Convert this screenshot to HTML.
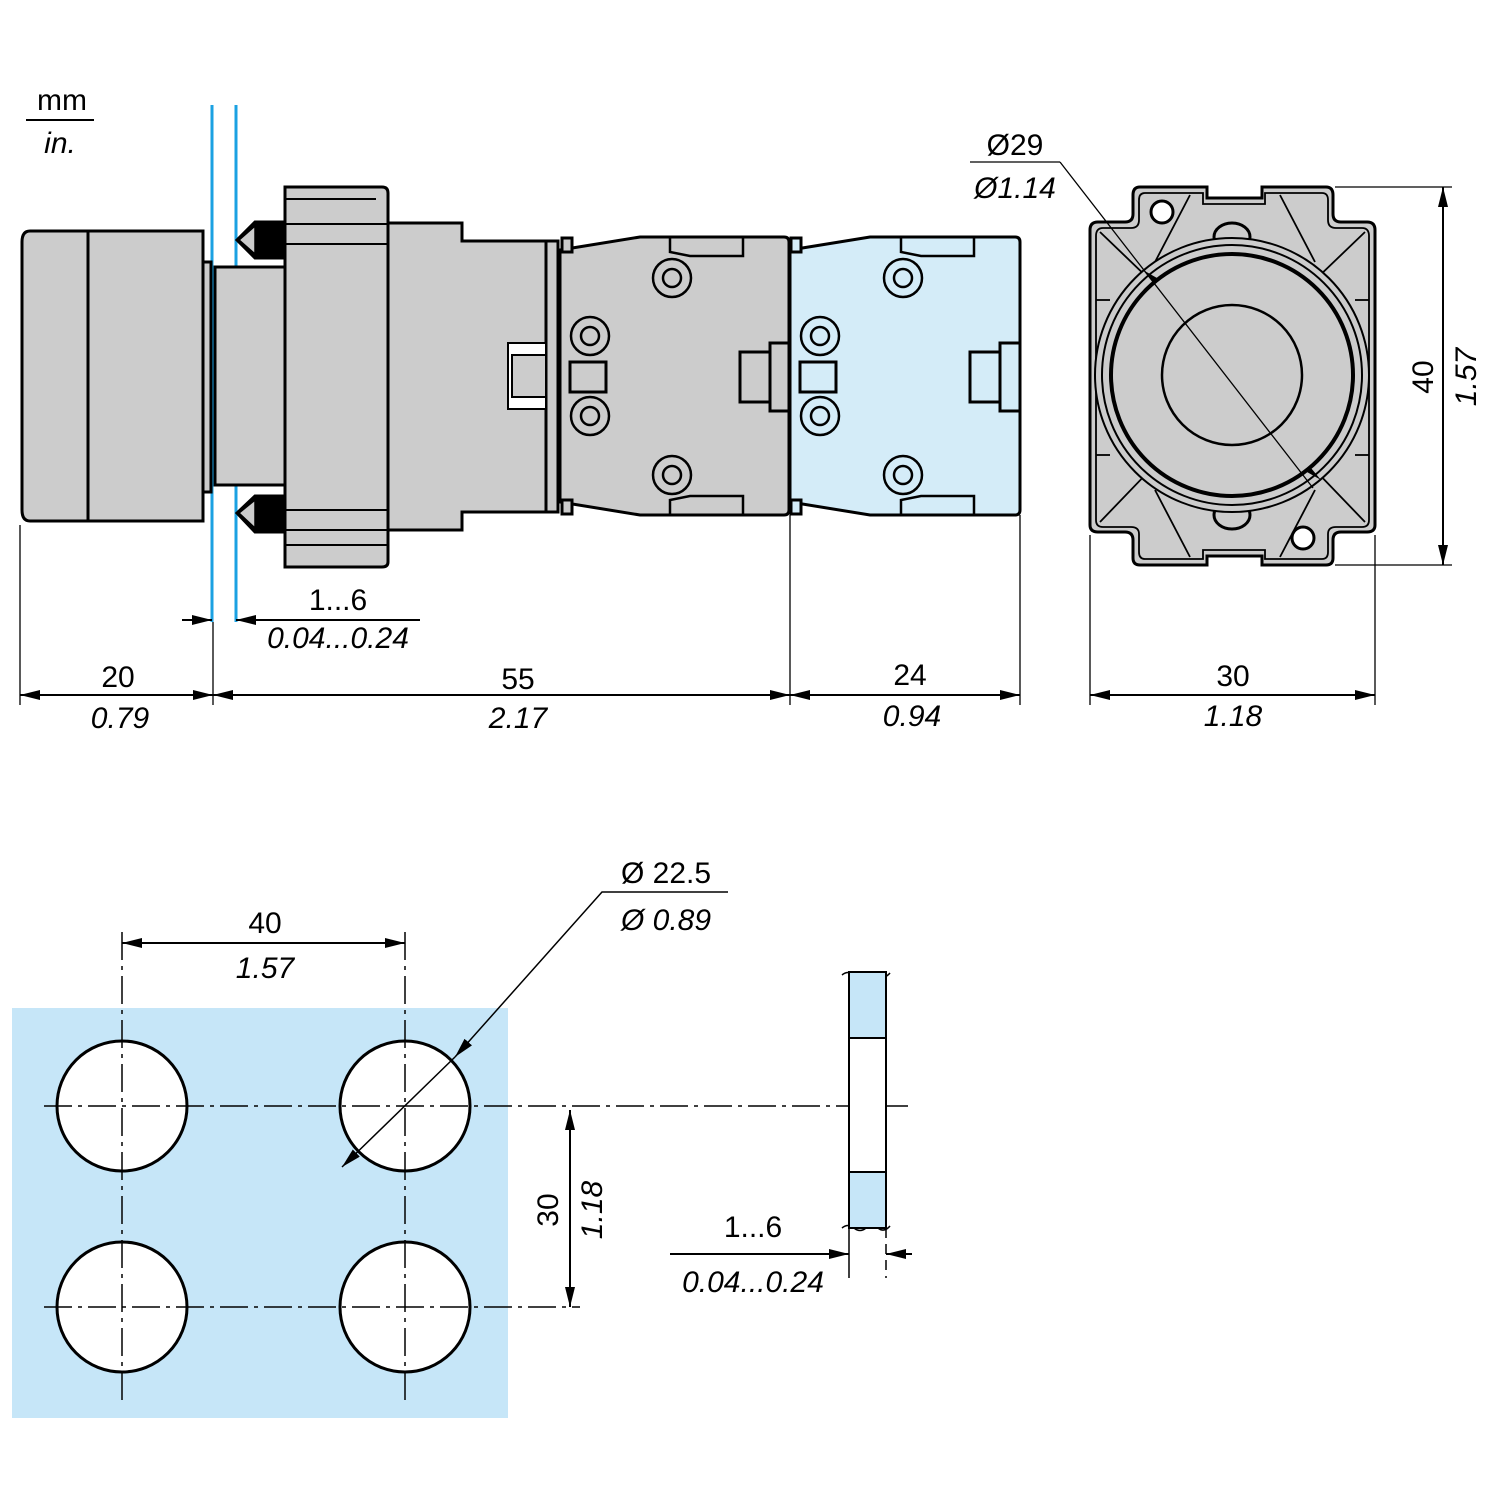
<!DOCTYPE html>
<html><head><meta charset="utf-8"><style>
html,body{margin:0;padding:0;background:#fff}
svg{display:block}
text{font-family:"Liberation Sans",Arial,sans-serif;font-size:30px;fill:#000}
.i{font-style:italic}
</style></head><body>
<svg width="1500" height="1500" viewBox="0 0 1500 1500" xmlns="http://www.w3.org/2000/svg">
<defs>
<marker id="a" viewBox="0 0 20 10" refX="20" refY="5" markerWidth="20" markerHeight="10" markerUnits="userSpaceOnUse" orient="auto-start-reverse"><path d="M0,0L20,5L0,10z" fill="#000"/></marker>
</defs>
<!-- blue panel lines (behind) -->
<line x1="212" y1="105" x2="212" y2="622" stroke="#1ba1e2" stroke-width="3"/>
<line x1="236" y1="105" x2="236" y2="622" stroke="#1ba1e2" stroke-width="3"/>
<g stroke="#000" stroke-width="3" fill="#cccccc">
<path d="M30,231H203V521H30Q22,521 22,510V242Q22,231 30,231Z"/>
<line x1="88" y1="231" x2="88" y2="521"/>
<rect x="203" y="262" width="8" height="230"/>
<rect x="215" y="267" width="70" height="218"/>
<path d="M285,222L255,222L237,240L255,258L285,258Z" fill="#000"/>
<path d="M255,226L239,240L255,254Z" fill="#ccc" stroke-width="1.5"/>
<path d="M285,496L255,496L237,513L255,532L285,532Z" fill="#000"/>
<path d="M255,500L239,513L255,528Z" fill="#ccc" stroke-width="1.5"/>
<path d="M285,187H382Q388,187 388,193V562Q388,567 382,567H285Z"/>
<line x1="285" y1="199" x2="376" y2="199" stroke-width="2"/>
<line x1="285" y1="224" x2="388" y2="224" stroke-width="2"/>
<line x1="285" y1="244" x2="388" y2="244" stroke-width="2"/>
<line x1="285" y1="510" x2="388" y2="510" stroke-width="2"/>
<line x1="285" y1="530" x2="388" y2="530" stroke-width="2"/>
<line x1="285" y1="545" x2="388" y2="545" stroke-width="2"/>
<path d="M388,223H462V241H548V512H462V530H388Z"/>
<rect x="546" y="241" width="12" height="271"/>
<rect x="508" y="343" width="38" height="66" fill="#fff" stroke-width="2"/>
<rect x="512" y="355" width="34" height="42" stroke-width="2"/>
<path d="M560,250L640,237H784Q789,237 789,242V510Q789,515 784,515H640L560,502Z"/>
<rect x="562" y="238" width="10" height="14"/>
<rect x="562" y="500" width="10" height="14"/>
<path d="M670,238V252L690,256H743V238" fill="none" stroke-width="2.5"/>
<path d="M670,514V500L690,496H743V514" fill="none" stroke-width="2.5"/>
<rect x="570" y="362" width="36" height="30" fill="#ccc"/>
<rect x="740" y="352" width="36" height="50"/>
<rect x="770" y="343" width="19" height="68"/>
<path d="M790,250L870,237H1015Q1020,237 1020,242V510Q1020,515 1015,515H870L790,502Z" fill="#d4ecf8"/>
<rect x="791" y="238" width="10" height="14" fill="#d4ecf8"/>
<rect x="791" y="500" width="10" height="14" fill="#d4ecf8"/>
<path d="M901,238V252L921,256H974V238" fill="none" stroke-width="2.5"/>
<path d="M901,514V500L921,496H974V514" fill="none" stroke-width="2.5"/>
<rect x="800" y="362" width="36" height="30" fill="#d4ecf8"/>
<rect x="970" y="352" width="36" height="50" fill="#d4ecf8"/>
<rect x="1000" y="343" width="20" height="68" fill="#d4ecf8"/>
</g>
<g stroke="#000" stroke-width="2.5" fill="none">
<circle cx="672" cy="278" r="19"/><circle cx="672" cy="278" r="9"/>
<circle cx="590" cy="336" r="19"/><circle cx="590" cy="336" r="9"/>
<circle cx="590" cy="416" r="19"/><circle cx="590" cy="416" r="9"/>
<circle cx="672" cy="475" r="19"/><circle cx="672" cy="475" r="9"/>
<circle cx="903" cy="278" r="19"/><circle cx="903" cy="278" r="9"/>
<circle cx="820" cy="336" r="19"/><circle cx="820" cy="336" r="9"/>
<circle cx="820" cy="416" r="19"/><circle cx="820" cy="416" r="9"/>
<circle cx="903" cy="475" r="19"/><circle cx="903" cy="475" r="9"/>
</g>
<g stroke="#000" stroke-width="3" fill="#cccccc">
<path d="M1140,187H1207V198H1262V187H1326Q1333,187 1333,195V214Q1333,222 1341,222H1367Q1375,222 1375,230V525Q1375,532 1367,532H1341Q1333,532 1333,540V558Q1333,565 1326,565H1262V556H1207V565H1140Q1133,565 1133,558V540Q1133,532 1125,532H1098Q1090,532 1090,525V230Q1090,222 1098,222H1125Q1133,222 1133,214V195Q1133,187 1140,187Z"/>
</g>
<g stroke="#000" stroke-width="1.8" fill="none">
<path d="M1145,193H1203V204H1265V193H1322Q1328,193 1328,200V220Q1328,228 1336,228H1362Q1369,228 1369,236V520Q1369,527 1362,527H1336Q1328,527 1328,534V552Q1328,559 1322,559H1265V550H1203V559H1145Q1139,559 1139,552V534Q1139,527 1131,527H1103Q1096,527 1096,520V236Q1096,228 1103,228H1131Q1139,228 1139,220V200Q1139,193 1145,193Z"/>
<line x1="1100" y1="232" x2="1150" y2="280"/><line x1="1365" y1="232" x2="1315" y2="280"/>
<line x1="1100" y1="522" x2="1150" y2="470"/><line x1="1365" y1="522" x2="1315" y2="470"/>
<line x1="1190" y1="195" x2="1155" y2="262"/><line x1="1280" y1="195" x2="1315" y2="262"/>
<line x1="1190" y1="557" x2="1155" y2="490"/><line x1="1280" y1="557" x2="1315" y2="490"/>
<line x1="1096" y1="300" x2="1110" y2="300"/><line x1="1355" y1="300" x2="1369" y2="300"/>
<line x1="1096" y1="455" x2="1110" y2="455"/><line x1="1355" y1="455" x2="1369" y2="455"/>
<ellipse cx="1232" cy="237" rx="18" ry="14" stroke-width="3"/>
<ellipse cx="1232" cy="515" rx="18" ry="14" stroke-width="3"/>
</g>
<circle cx="1162" cy="212" r="11" fill="#fff" stroke="#000" stroke-width="3"/>
<circle cx="1303" cy="538" r="11" fill="#fff" stroke="#000" stroke-width="3"/>
<g stroke="#000" fill="#cccccc">
<circle cx="1232" cy="375" r="137" stroke-width="2"/>
<circle cx="1232" cy="375" r="130" stroke-width="2"/>
<circle cx="1232" cy="375" r="121" stroke-width="4"/>
<circle cx="1232" cy="375" r="70" stroke-width="2.5"/>
</g>
<g stroke="#000" stroke-width="1.3" fill="none">
<line x1="20" y1="525" x2="20" y2="705"/>
<line x1="213" y1="622" x2="213" y2="705"/>
<line x1="790" y1="515" x2="790" y2="705"/>
<line x1="1020" y1="515" x2="1020" y2="705"/>
<line x1="1090" y1="535" x2="1090" y2="705"/>
<line x1="1375" y1="535" x2="1375" y2="705"/>
<line x1="1060" y1="162" x2="1313" y2="488" />
<line x1="970" y1="162" x2="1060" y2="162"/>
<line x1="1335" y1="187" x2="1452" y2="187"/>
<line x1="1335" y1="565" x2="1452" y2="565"/>
</g>
<g stroke="#000" stroke-width="2" fill="none">
<line x1="20" y1="695" x2="213" y2="695" marker-start="url(#a)" marker-end="url(#a)"/>
<line x1="213" y1="695" x2="790" y2="695" marker-start="url(#a)" marker-end="url(#a)"/>
<line x1="790" y1="695" x2="1020" y2="695" marker-start="url(#a)" marker-end="url(#a)"/>
<line x1="1090" y1="695" x2="1375" y2="695" marker-start="url(#a)" marker-end="url(#a)"/>
<line x1="1443" y1="187" x2="1443" y2="565" marker-start="url(#a)" marker-end="url(#a)"/>
<line x1="182" y1="620" x2="212" y2="620" marker-end="url(#a)"/>
<line x1="420" y1="620" x2="236" y2="620" marker-end="url(#a)"/>
<line x1="26" y1="120" x2="94" y2="120"/>
</g>
<path d="M1143,270l10,12l4,-4z M1321,480l-10,-12l-4,4z" fill="#000"/>
<text x="62" y="110" text-anchor="middle" font-size="28">mm</text>
<text x="60" y="153" text-anchor="middle" class="i" font-size="28">in.</text>
<text x="1015" y="155" text-anchor="middle">Ø29</text>
<text x="1015" y="198" text-anchor="middle" class="i">Ø1.14</text>
<text x="338" y="610" text-anchor="middle">1...6</text>
<text x="338" y="648" text-anchor="middle" class="i">0.04...0.24</text>
<text x="118" y="687" text-anchor="middle">20</text>
<text x="120" y="728" text-anchor="middle" class="i">0.79</text>
<text x="518" y="689" text-anchor="middle">55</text>
<text x="518" y="728" text-anchor="middle" class="i">2.17</text>
<text x="910" y="685" text-anchor="middle">24</text>
<text x="912" y="726" text-anchor="middle" class="i">0.94</text>
<text x="1233" y="686" text-anchor="middle">30</text>
<text x="1233" y="726" text-anchor="middle" class="i">1.18</text>
<text transform="translate(1433,377) rotate(-90)" text-anchor="middle">40</text>
<text transform="translate(1476,377) rotate(-90)" text-anchor="middle" class="i">1.57</text>
<rect x="12" y="1008" width="496" height="410" fill="#c6e6f8"/>
<g stroke="#000" stroke-width="3" fill="#fff">
<circle cx="122" cy="1106" r="65"/><circle cx="405" cy="1106" r="65"/>
<circle cx="122" cy="1307" r="65"/><circle cx="405" cy="1307" r="65"/>
</g>
<g stroke="#000" stroke-width="1.5" fill="none" stroke-dasharray="28,6,4,6">
<line x1="122" y1="932" x2="122" y2="1400"/>
<line x1="405" y1="932" x2="405" y2="1400"/>
<line x1="44" y1="1106" x2="910" y2="1106"/>
<line x1="44" y1="1307" x2="580" y2="1307"/>
</g>
<g stroke="#000" stroke-width="1.5" fill="none">
<line x1="122" y1="943" x2="405" y2="943" marker-start="url(#a)" marker-end="url(#a)" stroke-width="2"/>
<line x1="570" y1="1110" x2="570" y2="1307" marker-start="url(#a)" marker-end="url(#a)" stroke-width="2"/>
<polyline points="728,892 602,892 455,1057" marker-end="url(#a)"/>
<line x1="455" y1="1057" x2="342" y2="1167" marker-end="url(#a)"/>
<path d="M842,975 q6,-5 12,0 t12,0 t12,0 t12,-2" />
<path d="M842,1228 q6,-5 12,0 t12,0 t12,0 t12,-2" />
</g>
<rect x="849" y="972" width="37" height="66" fill="#c6e6f8" stroke="#000" stroke-width="2"/>
<rect x="849" y="1038" width="37" height="134" fill="#fff" stroke="#000" stroke-width="2"/>
<rect x="849" y="1172" width="37" height="56" fill="#c6e6f8" stroke="#000" stroke-width="2"/>
<g stroke="#000" stroke-width="1.5" fill="none">
<line x1="849" y1="1228" x2="849" y2="1278"/>
<line x1="886" y1="1228" x2="886" y2="1278" stroke-dasharray="10,6"/>
<line x1="670" y1="1254" x2="849" y2="1254" marker-end="url(#a)" stroke-width="2"/>
<line x1="912" y1="1254" x2="886" y2="1254" marker-end="url(#a)" stroke-width="2"/>
</g>
<text x="265" y="933" text-anchor="middle">40</text>
<text x="265" y="978" text-anchor="middle" class="i">1.57</text>
<text x="666" y="883" text-anchor="middle">Ø 22.5</text>
<text x="666" y="930" text-anchor="middle" class="i">Ø 0.89</text>
<text transform="translate(558,1210) rotate(-90)" text-anchor="middle">30</text>
<text transform="translate(602,1210) rotate(-90)" text-anchor="middle" class="i">1.18</text>
<text x="753" y="1237" text-anchor="middle">1...6</text>
<text x="753" y="1292" text-anchor="middle" class="i">0.04...0.24</text>
</svg>
</body></html>
